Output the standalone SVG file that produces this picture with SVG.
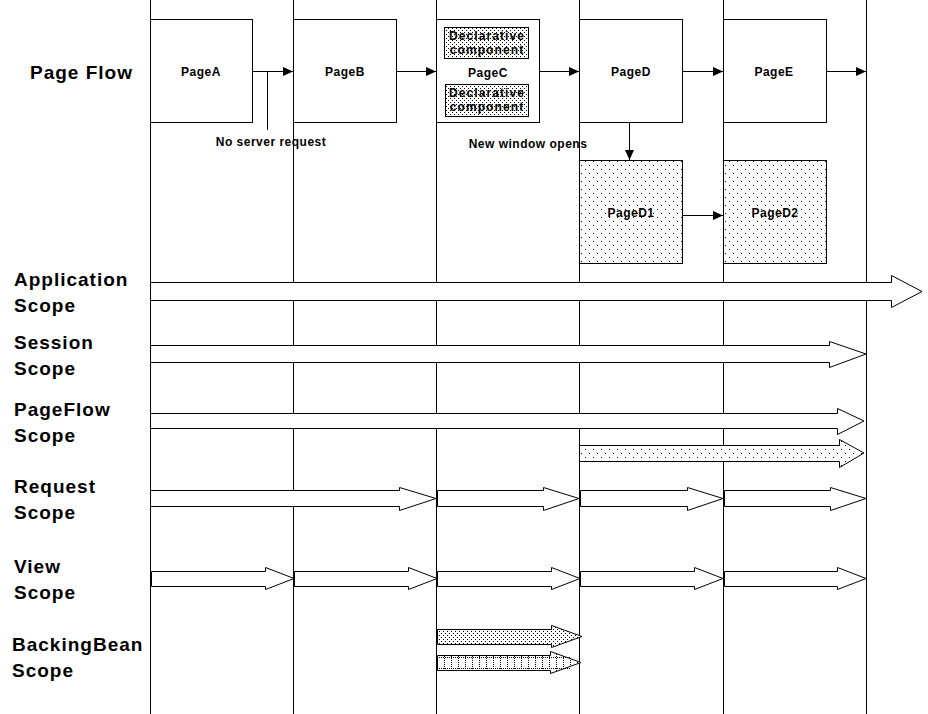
<svg xmlns="http://www.w3.org/2000/svg" width="928" height="714" viewBox="0 0 928 714">
<style>
.lane{stroke:#000;stroke-width:1;fill:none}
.box{fill:#fff;stroke:#000;stroke-width:1}
.dbox{fill:url(#dots8);stroke:#000;stroke-width:1}
.cbox{fill:url(#dots2);stroke:#000;stroke-width:1}
.blk{fill:#fff;stroke:#000;stroke-width:1}
.con{stroke:#000;stroke-width:1;fill:none}
.pl{font-family:"Liberation Sans",Arial,sans-serif;font-weight:bold;font-size:12px;text-anchor:middle;fill:#000;letter-spacing:0.5px}
.sm{font-family:"Liberation Sans",Arial,sans-serif;font-weight:bold;font-size:12px;text-anchor:middle;fill:#000;letter-spacing:1.1px}
.lbl{font-family:"Liberation Sans",Arial,sans-serif;font-weight:bold;font-size:19px;fill:#000;letter-spacing:1px}
.dl{stroke:#000;stroke-width:1;stroke-dasharray:1 1;fill:none}
</style>
<defs>
<pattern id="dots8" width="8" height="8" patternUnits="userSpaceOnUse"><rect width="8" height="8" fill="#fff"/><rect x="1" y="1" width="1" height="1" fill="#000"/><rect x="5" y="5" width="1" height="1" fill="#000"/></pattern>
<pattern id="dots2" width="4" height="4" patternUnits="userSpaceOnUse"><rect width="4" height="4" fill="#fff"/><rect x="0" y="0" width="1" height="1" fill="#000"/><rect x="2" y="2" width="1" height="1" fill="#000"/></pattern>
<pattern id="dots4" width="4" height="4" patternUnits="userSpaceOnUse"><rect width="4" height="4" fill="#fff"/><rect x="1" y="1" width="1" height="1" fill="#000"/><rect x="3" y="3" width="1" height="1" fill="#000"/></pattern>
<pattern id="grid" width="7" height="2" patternUnits="userSpaceOnUse"><rect width="7" height="2" fill="#fff"/><rect x="3" y="0" width="1" height="1" fill="#000"/></pattern>
<marker id="ah" markerWidth="10" markerHeight="10" refX="10" refY="5" orient="auto" markerUnits="userSpaceOnUse"><path d="M0,0.5 L10,5 L0,9.5 Z" fill="#000"/></marker>
</defs>
<g id="lanes">
<line class="lane" x1="150.5" y1="0" x2="150.5" y2="714"/>
<line class="lane" x1="293.5" y1="0" x2="293.5" y2="714"/>
<line class="lane" x1="436.5" y1="0" x2="436.5" y2="714"/>
<line class="lane" x1="579.5" y1="0" x2="579.5" y2="714"/>
<line class="lane" x1="723.5" y1="0" x2="723.5" y2="714"/>
<line class="lane" x1="866.5" y1="0" x2="866.5" y2="714"/>
</g>
<g id="labels">
<text class="lbl" x="30" y="79">Page Flow</text>
<text class="lbl" x="14" y="286">Application</text>
<text class="lbl" x="14" y="312">Scope</text>
<text class="lbl" x="14" y="349">Session</text>
<text class="lbl" x="14" y="375">Scope</text>
<text class="lbl" x="14" y="416">PageFlow</text>
<text class="lbl" x="14" y="442">Scope</text>
<text class="lbl" x="14" y="493">Request</text>
<text class="lbl" x="14" y="519">Scope</text>
<text class="lbl" x="14" y="573">View</text>
<text class="lbl" x="14" y="599">Scope</text>
<text class="lbl" x="12" y="651">BackingBean</text>
<text class="lbl" x="12" y="677">Scope</text>
</g>
<g id="pageA"><rect class="box" x="150.5" y="19.5" width="102" height="103" stroke-width="1.5"/><text class="pl" x="201" y="76">PageA</text></g>
<g id="pageB"><rect class="box" x="293.5" y="19.5" width="103" height="103"/><text class="pl" x="345" y="76">PageB</text></g>
<g id="pageC"><rect class="box" x="436.5" y="19.5" width="103" height="103"/>
<rect class="cbox" x="444.5" y="27.5" width="84" height="31"/><text class="sm" x="487" y="40">Declarative</text><text class="sm" x="487" y="54">component</text>
<text class="pl" x="488" y="77">PageC</text>
<rect class="cbox" x="445.5" y="84.5" width="83" height="32"/><text class="sm" x="487" y="97">Declarative</text><text class="sm" x="487" y="111">component</text></g>
<g id="pageD"><rect class="box" x="579.5" y="19.5" width="103" height="103"/><text class="pl" x="631" y="76">PageD</text></g>
<g id="pageE"><rect class="box" x="723.5" y="19.5" width="103" height="103"/><text class="pl" x="774" y="76">PageE</text></g>
<g id="pageD1"><rect class="dbox" x="579.5" y="160.5" width="103" height="103"/><text class="pl" x="631" y="217">PageD1</text></g>
<g id="pageD2"><rect class="dbox" x="723.5" y="160.5" width="103" height="103"/><text class="pl" x="775" y="217">PageD2</text></g>
<g id="connectors">
<line class="con" x1="252" y1="71.5" x2="293" y2="71.5" marker-end="url(#ah)"/>
<line class="con" x1="267.5" y1="71.5" x2="267.5" y2="130"/>
<line class="con" x1="397" y1="71.5" x2="436" y2="71.5" marker-end="url(#ah)"/>
<line class="con" x1="540" y1="71.5" x2="579" y2="71.5" marker-end="url(#ah)"/>
<line class="con" x1="683" y1="71.5" x2="723" y2="71.5" marker-end="url(#ah)"/>
<line class="con" x1="827" y1="71.5" x2="866" y2="71.5" marker-end="url(#ah)"/>
<line class="con" x1="629.5" y1="123" x2="629.5" y2="160" marker-end="url(#ah)"/>
<line class="con" x1="683" y1="215.5" x2="723" y2="215.5" marker-end="url(#ah)"/>
<text class="pl" x="271" y="146">No server request</text>
<text class="pl" x="528" y="148">New window opens</text>
</g>
<g id="scopes">
<polygon class="blk" points="150.5,282.5 891.5,282.5 891.5,275.5 922,291.5 891.5,307.5 891.5,300.5 150.5,300.5"/>
<polygon class="blk" points="150.5,345.5 829.5,345.5 829.5,341.5 866,354 829.5,367.5 829.5,362.5 150.5,362.5"/>
<polygon class="blk" points="150.5,413.5 837.5,413.5 837.5,408.5 864,421 837.5,434.5 837.5,428.5 150.5,428.5"/>
<polygon class="blk" style="fill:url(#dots8)" points="579.5,445.5 839.5,445.5 839.5,439.5 864,453 839.5,467.5 839.5,461.5 579.5,461.5"/>
<polygon class="blk" points="150.5,490.5 399.5,490.5 399.5,487.5 436,498.5 399.5,510.5 399.5,506.5 150.5,506.5"/>
<polygon class="blk" points="437.5,490.5 543.5,490.5 543.5,487.5 579,498.5 543.5,510.5 543.5,506.5 437.5,506.5"/>
<polygon class="blk" points="580.5,490.5 687.5,490.5 687.5,487.5 723,498.5 687.5,510.5 687.5,506.5 580.5,506.5"/>
<polygon class="blk" points="724.5,490.5 830.5,490.5 830.5,487.5 866,498.5 830.5,510.5 830.5,506.5 724.5,506.5"/>
<polygon class="blk" points="151.5,571.5 265.5,571.5 265.5,567.5 294,578.5 265.5,589.5 265.5,586.5 151.5,586.5"/>
<polygon class="blk" points="294.5,571.5 408.5,571.5 408.5,567.5 437,578.5 408.5,589.5 408.5,586.5 294.5,586.5"/>
<polygon class="blk" points="437.5,571.5 551.5,571.5 551.5,567.5 580,578.5 551.5,589.5 551.5,586.5 437.5,586.5"/>
<polygon class="blk" points="580.5,571.5 694.5,571.5 694.5,567.5 723,578.5 694.5,589.5 694.5,586.5 580.5,586.5"/>
<polygon class="blk" points="724.5,571.5 837.5,571.5 837.5,567.5 866,578.5 837.5,589.5 837.5,586.5 724.5,586.5"/>
<polygon class="blk" style="fill:url(#dots4)" points="437.5,629.5 551.5,629.5 551.5,625.5 582,636.5 551.5,647.5 551.5,644.5 437.5,644.5"/>
<polygon class="blk" style="fill:url(#grid)" points="437.5,655.5 550.5,655.5 550.5,651.5 581,662.5 550.5,673.5 550.5,670.5 437.5,670.5"/>
<line class="dl" x1="439" y1="657.5" x2="570" y2="657.5"/>
<line class="dl" x1="439" y1="668.5" x2="570" y2="668.5"/>
</g>
</svg>
